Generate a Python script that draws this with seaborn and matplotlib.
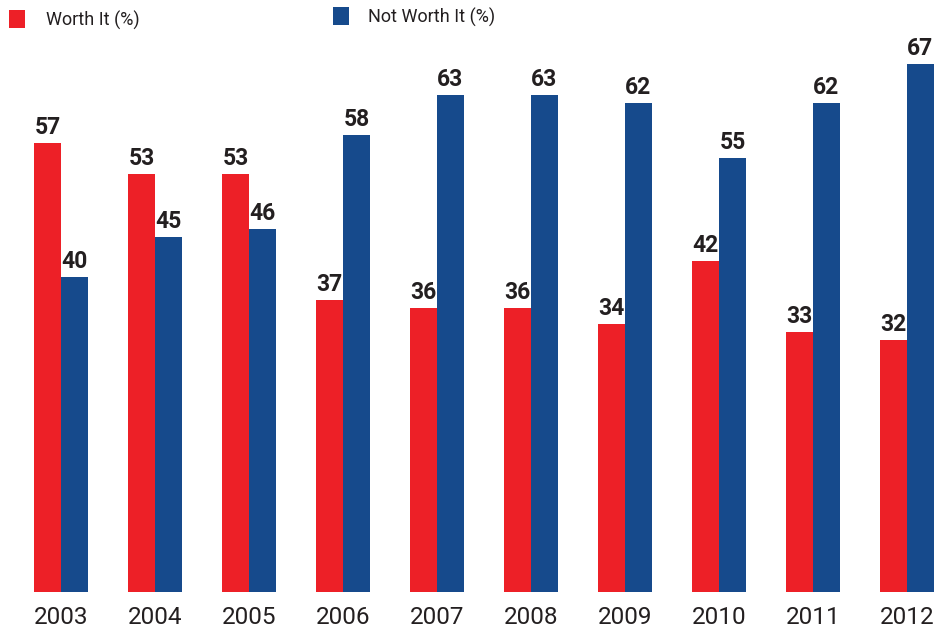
import matplotlib
matplotlib.use("Agg")
import matplotlib.pyplot as plt
from matplotlib.patches import Rectangle
import seaborn as sns
import pandas as pd

years = ["2003", "2004", "2005", "2006", "2007", "2008", "2009", "2010", "2011", "2012"]
worth_it = [57, 53, 53, 37, 36, 36, 34, 42, 33, 32]
not_worth_it = [40, 45, 46, 58, 63, 63, 62, 55, 62, 67]
series_names = ["Worth It (%)", "Not Worth It (%)"]

RED = "#ED2027"
BLUE = "#164A8C"
INK = "#231F20"

df = pd.DataFrame({
    "year": years * 2,
    "value": worth_it + not_worth_it,
    "series": [series_names[0]] * len(years) + [series_names[1]] * len(years),
})

sns.set_theme(style="white")
plt.rcParams["font.family"] = ["Liberation Sans Narrow", "DejaVu Sans Condensed",
                               "Roboto", "DejaVu Sans"]

fig = plt.figure(figsize=(9.35, 6.34), dpi=100)
ax = fig.add_axes([0.0, 42 / 634, 1.0, 592 / 634])

sns.barplot(data=df, x="year", y="value", hue="series", order=years,
            hue_order=series_names, palette={series_names[0]: RED, series_names[1]: BLUE},
            saturation=1, width=0.574, ax=ax, legend=False,
            edgecolor="none", linewidth=0)

for container in ax.containers:
    ax.bar_label(container, labels=[f"{v:.0f}" for v in container.datavalues],
                 padding=3, fontsize=16.5, fontweight="bold", color=INK)

ax.set_xlim(-0.649, 9.298)
ax.set_ylim(0, 75.1)
ax.set_xlabel("")
ax.set_ylabel("")
ax.set_yticks([])
ax.tick_params(axis="x", length=0, pad=10, labelsize=17.5, labelcolor=INK)
for s in ax.spines.values():
    s.set_visible(False)

# Legend: coloured squares with captions along the top edge
W, H = 935, 634
for (x0, y0, color, label, tx) in [(9, 10, RED, series_names[0], 46),
                                   (333, 7, BLUE, series_names[1], 368)]:
    fig.patches.append(Rectangle((x0 / W, 1 - (y0 + 18) / H), 16 / W, 18 / H,
                                 transform=fig.transFigure, facecolor=color,
                                 edgecolor="none"))
    fig.text(tx / W, 1 - (y0 + 10) / H, label, fontsize=13, color=INK,
             va="center", ha="left")

fig.savefig("out.png", dpi=100)
